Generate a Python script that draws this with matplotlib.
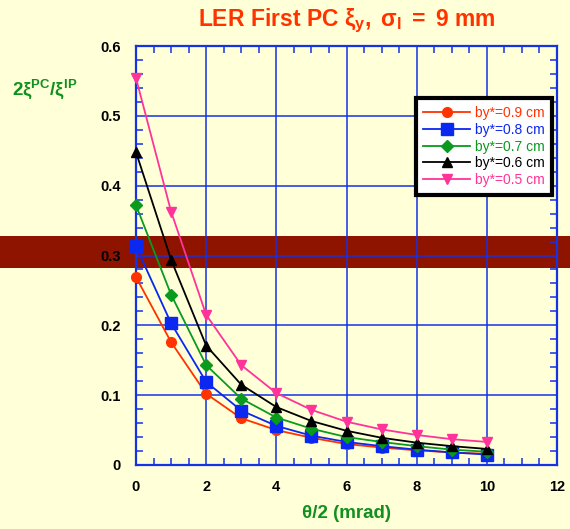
import matplotlib
matplotlib.use("Agg")
import matplotlib.pyplot as plt
from matplotlib.patches import Rectangle
from matplotlib.ticker import MultipleLocator

plt.rcParams['font.family'] = ['Liberation Sans', 'DejaVu Sans']
plt.rcParams['mathtext.fontset'] = 'custom'
plt.rcParams['mathtext.rm'] = 'Liberation Sans'
plt.rcParams['mathtext.it'] = 'Liberation Sans:italic'
plt.rcParams['mathtext.bf'] = 'Liberation Sans:bold'

# half crossing angle (mrad)
theta_half = [0, 1, 2, 3, 4, 5, 6, 7, 8, 9, 10]

labels = ["by*=0.9 cm", "by*=0.8 cm", "by*=0.7 cm", "by*=0.6 cm", "by*=0.5 cm"]
ratio_09 = [0.269, 0.176, 0.102, 0.067, 0.050, 0.039, 0.030, 0.025, 0.021, 0.018, 0.016]
ratio_08 = [0.313, 0.203, 0.119, 0.078, 0.056, 0.042, 0.033, 0.027, 0.022, 0.018, 0.015]
ratio_07 = [0.372, 0.244, 0.143, 0.095, 0.068, 0.052, 0.040, 0.033, 0.027, 0.022, 0.019]
ratio_06 = [0.448, 0.294, 0.171, 0.115, 0.083, 0.063, 0.049, 0.039, 0.032, 0.027, 0.023]
ratio_05 = [0.554, 0.363, 0.215, 0.143, 0.103, 0.079, 0.062, 0.051, 0.043, 0.037, 0.033]

x_ticks = [0, 2, 4, 6, 8, 10, 12]
x_ticklabels = ["0", "2", "4", "6", "8", "10", "12"]
y_ticks = [0, 0.1, 0.2, 0.3, 0.4, 0.5, 0.6]
y_ticklabels = ["0", "0.1", "0.2", "0.3", "0.4", "0.5", "0.6"]

series = [ratio_09, ratio_08, ratio_07, ratio_06, ratio_05]
colors = ["#FF3300", "#0A28F0", "#0A9A1E", "#000000", "#FF3399"]
markers = ["o", "s", "D", "^", "v"]
msizes = [7, 8, 6, 7, 7]

bg = "#FFFFD8"
blue = "#1432E6"

fig = plt.figure(figsize=(5.7, 5.29), dpi=100)
fig.patch.set_facecolor(bg)

# dark horizontal band across the whole figure, behind the axes
band = Rectangle((0, 1 - 268 / 529), 1, 32 / 529, transform=fig.transFigure,
                 facecolor="#8E1400", edgecolor="none", zorder=-1)
fig.patches.append(band)

ax = fig.add_axes([136 / 570, 1 - 465 / 529, 421 / 570, 419 / 529])
ax.set_facecolor("none")

for y, c, m, s, lab in zip(series, colors, markers, msizes, labels):
    ax.plot(theta_half, y, color=c, marker=m, markersize=s, lw=1.3,
            label=lab, clip_on=False, zorder=3)

ax.set_xlim(0, 12)
ax.set_ylim(0, 0.6)
ax.set_xticks(x_ticks)
ax.set_xticklabels(x_ticklabels)
ax.set_yticks(y_ticks)
ax.set_yticklabels(y_ticklabels)
ax.xaxis.set_minor_locator(MultipleLocator(0.5))
ax.yaxis.set_minor_locator(MultipleLocator(0.02))

ax.grid(True, which="major", color=blue, lw=1.1)
ax.set_axisbelow(True)
for sp in ax.spines.values():
    sp.set_color(blue)
    sp.set_linewidth(1.6)

ax.tick_params(which="both", direction="in", top=True, right=True,
               color=blue, width=1.1)
ax.tick_params(which="major", length=0, labelsize=10.5, pad=11)
ax.tick_params(which="minor", length=5)
for t in ax.get_xticklabels() + ax.get_yticklabels():
    t.set_fontweight("bold")

ax.set_xlabel("θ/2 (mrad)", color="#10901E", fontsize=13.5, fontweight="bold",
              labelpad=8)

fig.text(12 / 570, 1 - 95 / 529, r"$\mathbf{2ξ^{PC}/ξ^{IP}}$", color="#10901E",
         fontsize=13.5, ha="left", va="baseline")

fig.text(347 / 570, 1 - 26 / 529,
         r"$\mathbf{LER\ First\ PC\ ξ_y,\ σ_l\ {=}\ 9\ mm}$",
         color="#FF3300", fontsize=16.5, ha="center", va="baseline")

leg = ax.legend(loc="upper right", bbox_to_anchor=(0.988, 0.875), fontsize=10,
                frameon=True, fancybox=False, framealpha=1, borderpad=0.55,
                handlelength=3.4, handletextpad=0.3, labelspacing=0.2,
                borderaxespad=0)
leg.get_frame().set_edgecolor("black")
leg.get_frame().set_linewidth(3)
for txt, c in zip(leg.get_texts(), colors):
    txt.set_color(c)

fig.savefig("out.png", dpi=100, facecolor=fig.get_facecolor())
